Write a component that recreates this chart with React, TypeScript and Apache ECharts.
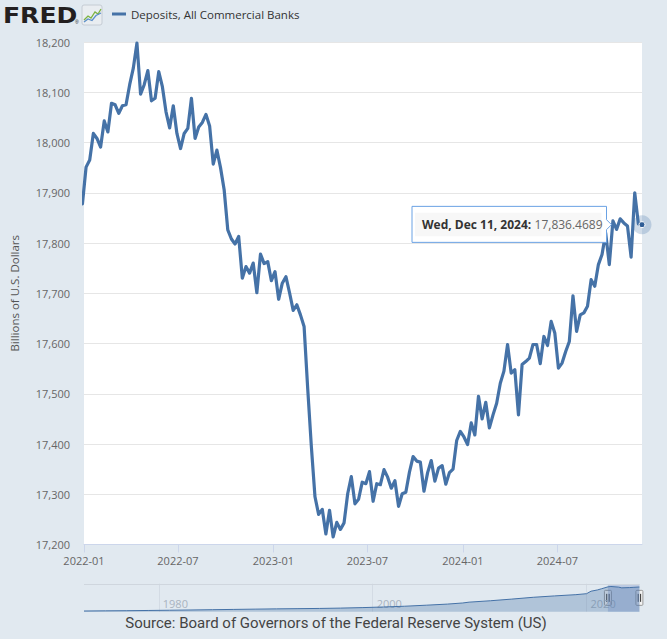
import React, { useEffect, useRef } from "react";
import * as echarts from "echarts";

// ---- Main series: weekly deposits (billions of U.S. dollars), Wednesdays ----
const startDate2021 = [2021, 11, 29];
const values2021 = [17878];
const startDate2022 = [2022, 0, 5];
const values2022 = [
  17951, 17965, 18018, 18008, 17991, 18043, 18021, 18078, 18075, 18058,
  18073, 18075, 18115, 18148, 18198, 18096, 18115, 18143, 18083, 18088,
  18141, 18111, 18061, 18029, 18073, 18018, 17988, 18018, 18028, 18088,
  18008, 18031, 18040, 18056, 18033, 17957, 17985, 17950, 17906, 17826,
  17808, 17798, 17813, 17730, 17753, 17740, 17760, 17701, 17778, 17759,
  17763, 17725,
];
const startDate2023 = [2023, 0, 4];
const values2023 = [
  17743, 17688, 17720, 17733, 17701, 17666, 17677, 17657, 17634, 17510,
  17395, 17295, 17260, 17270, 17221, 17268, 17215, 17244, 17230, 17243,
  17301, 17335, 17281, 17290, 17324, 17321, 17345, 17286, 17321, 17319,
  17349, 17334, 17312, 17327, 17276, 17301, 17304, 17344, 17375, 17366,
  17364, 17306, 17343, 17367, 17326, 17352, 17357, 17320, 17343, 17350,
  17407, 17425,
];
const startDate2024 = [2024, 0, 3];
const values2024 = [
  17414, 17399, 17442, 17418, 17495, 17450, 17483, 17432, 17458, 17481,
  17521, 17545, 17598, 17541, 17548, 17458, 17558, 17564, 17571, 17598,
  17598, 17560, 17614, 17596, 17644, 17621, 17551, 17561, 17584, 17604,
  17695, 17624, 17657, 17661, 17674, 17727, 17714, 17757, 17777, 17820,
  17757, 17844, 17827, 17848, 17840, 17834, 17772, 17900, 17838, 17836.4689,
];

// ---- Axes ----
const xTickLabels = ["2022-01", "2022-07", "2023-01", "2023-07", "2024-01", "2024-07"];
const yMin = 17200;
const yMax = 18200;
const yStep = 100;

// ---- Navigator (full history, billions) ----
const navDates = [
  "1973-01-03", "1975-01-01", "1977-01-05", "1979-01-03", "1981-01-07", "1983-01-05",
  "1985-01-02", "1987-01-07", "1989-01-04", "1991-01-02", "1993-01-06", "1995-01-04",
  "1997-01-01", "1999-01-06", "2001-01-03", "2003-01-01", "2005-01-05", "2007-01-03",
  "2008-06-04", "2009-01-07", "2011-01-05", "2013-01-02", "2015-01-07", "2017-01-04",
  "2019-01-02", "2020-01-01", "2020-06-03", "2021-01-06", "2021-06-02", "2022-01-05",
  "2022-04-13", "2023-01-04", "2023-04-19", "2024-01-03", "2024-06-05", "2024-12-11",
];
const navValues = [
  500, 620, 720, 880, 1050, 1250,
  1450, 1650, 1850, 2050, 2200, 2350,
  2600, 2950, 3400, 3950, 4700, 5500,
  6300, 6900, 7900, 9100, 10400, 11400,
  12300, 13000, 14800, 15700, 16600, 17951,
  18198, 17743, 17215, 17414, 17598, 17836,
];
const navTickYears = ["1980", "2000", "2020"];

const seriesName = "Deposits, All Commercial Banks";
const sourceText = "Source: Board of Governors of the Federal Reserve System (US)";
const yAxisTitle = "Billions of U.S. Dollars";

const FONT = "'Open Sans', 'Noto Sans', sans-serif";
const LINE_COLOR = "#4572a7";

function weekly(start: number[], values: number[]): [number, number][] {
  return values.map((v, i) => [new Date(start[0], start[1], start[2] + 7 * i).getTime(), v]);
}

function parseDay(s: string): number {
  const [y, m, d] = s.split("-").map(Number);
  return new Date(y, m - 1, d || 1).getTime();
}

const DAYS = ["Sun", "Mon", "Tue", "Wed", "Thu", "Fri", "Sat"];
const MONTHS = ["Jan", "Feb", "Mar", "Apr", "May", "Jun", "Jul", "Aug", "Sep", "Oct", "Nov", "Dec"];

export default function App() {
  const ref = useRef<HTMLDivElement>(null);

  useEffect(() => {
    document.body.style.margin = "0";
    const chart = echarts.init(ref.current!, null, { renderer: "svg" });

    const mainData = [
      ...weekly(startDate2021, values2021),
      ...weekly(startDate2022, values2022),
      ...weekly(startDate2023, values2023),
      ...weekly(startDate2024, values2024),
    ];
    const last = mainData[mainData.length - 1];
    const lastTs = last[0];
    const lastVal = last[1];
    const xMin = parseDay(xTickLabels[0]);
    const xTicks = xTickLabels.map(parseDay);
    const navData = navDates.map((d, i) => [parseDay(d), navValues[i]]);
    const navMin = navData[0][0];
    const navTicks = navTickYears.map((y) => parseDay(y + "-01-01"));

    chart.setOption({
      animation: false,
      backgroundColor: "#e1e9f0",
      textStyle: { fontFamily: FONT },
      legend: {
        data: [seriesName],
        left: 112,
        top: 8,
        padding: 0,
        icon: "rect",
        itemWidth: 14,
        itemHeight: 3,
        itemGap: 5,
        textStyle: { fontSize: 11.5, color: "#333", fontFamily: FONT },
      },
      grid: [
        { left: 84, right: 25, top: 42, bottom: 94.5, show: true, backgroundColor: "#ffffff", borderWidth: 0 },
        { left: 84, right: 27.6, top: 584, bottom: 27.3, show: false },
      ],
      xAxis: [
        {
          type: "value",
          gridIndex: 0,
          min: xMin,
          max: lastTs,
          axisLine: { show: true, lineStyle: { color: "#ccd6eb", width: 1 } },
          axisTick: { show: true, customValues: xTicks, length: 8, lineStyle: { color: "#ccd6eb" } },
          axisLabel: {
            customValues: xTicks,
            margin: 10,
            fontSize: 11,
            color: "#666",
            fontFamily: FONT,
            formatter: (v: number) => {
              const d = new Date(v);
              return d.getFullYear() + "-" + String(d.getMonth() + 1).padStart(2, "0");
            },
          },
          splitLine: { show: false },
        },
        {
          type: "value",
          gridIndex: 1,
          min: navMin,
          max: lastTs,
          axisLine: { show: false },
          axisTick: {
            show: true,
            inside: true,
            customValues: navTicks,
            length: 28,
            lineStyle: { color: "#d3dbe4" },
          },
          axisLabel: {
            customValues: navTicks,
            inside: true,
            margin: 3,
            align: "left",
            padding: [0, 0, 0, 4],
            fontSize: 11,
            color: "#a9b3bf",
            fontFamily: FONT,
            formatter: (v: number) => String(new Date(v).getFullYear()),
          },
          splitLine: { show: false },
        },
      ],
      yAxis: [
        {
          type: "value",
          gridIndex: 0,
          min: yMin,
          max: yMax,
          interval: yStep,
          name: yAxisTitle,
          nameLocation: "middle",
          nameGap: 64,
          nameRotate: 90,
          nameTextStyle: { fontSize: 11.5, color: "#555", fontFamily: FONT },
          axisLine: { show: false },
          axisTick: { show: false },
          axisLabel: {
            margin: 14,
            fontSize: 11,
            color: "#666",
            fontFamily: FONT,
            padding: [0, 0, 10, 0],
            formatter: (v: number) => v.toLocaleString("en-US"),
          },
          splitLine: { show: true, lineStyle: { color: "#e6e6e6", width: 1 } },
        },
        {
          type: "value",
          gridIndex: 1,
          min: 0,
          max: 20000,
          show: false,
          splitLine: { show: false },
        },
      ],
      series: [
        {
          name: seriesName,
          type: "line",
          xAxisIndex: 0,
          yAxisIndex: 0,
          data: mainData,
          color: LINE_COLOR,
          showSymbol: false,
          symbol: "none",
          lineStyle: { color: LINE_COLOR, width: 3.2, join: "round", cap: "round" },
          clip: true,
          z: 3,
          markPoint: {
            silent: true,
            label: { show: false },
            data: [
              {
                coord: [lastTs, lastVal],
                symbol: "circle",
                symbolSize: 19,
                itemStyle: { color: "rgba(69,114,167,0.25)" },
              },
              {
                coord: [lastTs, lastVal],
                symbol: "circle",
                symbolSize: 6,
                itemStyle: { color: "#2f5d96", borderColor: "#ffffff", borderWidth: 1 },
              },
            ],
          },
        },
        {
          name: "navigator",
          type: "line",
          xAxisIndex: 1,
          yAxisIndex: 1,
          data: navData,
          showSymbol: false,
          symbol: "none",
          lineStyle: { color: LINE_COLOR, width: 1 },
          areaStyle: { color: "rgba(69,114,167,0.45)" },
          silent: true,
          markArea: {
            silent: true,
            itemStyle: { color: "rgba(102,133,194,0.3)" },
            data: [[{ xAxis: xMin }, { xAxis: lastTs }]],
          },
        },
      ],
    });

    // Positions derived from the chart's own scales
    const [px, py] = chart.convertToPixel({ gridIndex: 0 }, [lastTs, lastVal]) as number[];
    const [nL, nTop] = chart.convertToPixel({ gridIndex: 1 }, [navMin, 20000]) as number[];
    const [nR, nBot] = chart.convertToPixel({ gridIndex: 1 }, [lastTs, 0]) as number[];
    const [hA] = chart.convertToPixel({ gridIndex: 1 }, [xMin, 0]) as number[];
    const hMid = (nTop + nBot) / 2;

    const d = new Date(lastTs);
    const dateStr = `${DAYS[d.getDay()]}, ${MONTHS[d.getMonth()]} ${d.getDate()}, ${d.getFullYear()}:`;
    const valStr = lastVal.toLocaleString("en-US", { minimumFractionDigits: 4, maximumFractionDigits: 4 });

    const boxR = px - 35.5;
    const boxL = boxR - 194.5;
    const boxT = py - 18.3;
    const boxB = py + 17.7;

    const handle = (x: number, id: string) => ({
      type: "group",
      id,
      x,
      y: hMid,
      children: [
        { type: "rect", shape: { x: -3.5, y: -7.5, width: 7, height: 15, r: 1 }, style: { fill: "#f2f2f2", stroke: "#999", lineWidth: 1 } },
        { type: "line", shape: { x1: -1.2, y1: -4, x2: -1.2, y2: 4 }, style: { stroke: "#333", lineWidth: 1 } },
        { type: "line", shape: { x1: 1.2, y1: -4, x2: 1.2, y2: 4 }, style: { stroke: "#333", lineWidth: 1 } },
      ],
    });

    chart.setOption({
      graphic: {
        elements: [
          {
            type: "text",
            id: "fred",
            x: 3,
            y: 15.5,
            scaleX: 1.14,
            style: {
              text: "FRED",
              x: 0,
              y: 0,
              verticalAlign: "middle",
              fontFamily: "'DejaVu Sans', sans-serif",
              fontWeight: 900,
              fontSize: 22,
              fill: "#231f20",
            },
          },
          {
            type: "text",
            id: "reg",
            x: 75,
            y: 22,
            style: { text: "®", fontSize: 5, fill: "#231f20", verticalAlign: "middle" },
          },
          {
            type: "group",
            id: "icon",
            x: 82,
            y: 5,
            children: [
              { type: "rect", shape: { x: 0, y: 0, width: 20, height: 20, r: 2 }, style: { fill: "#e9edf1", stroke: "#c5ccd4", lineWidth: 1 } },
              { type: "polyline", shape: { points: [[2, 15], [6, 11], [9, 13], [13, 7], [16, 9], [19, 4]] }, style: { stroke: "#7cb342", lineWidth: 1.3, fill: "none" } },
              { type: "polyline", shape: { points: [[2, 17], [6, 14], [10, 15.5], [14, 10.5], [19, 8]] }, style: { stroke: "#5b8ec9", lineWidth: 1.3, fill: "none" } },
            ],
          },
          {
            type: "line",
            id: "navTop",
            shape: { x1: nL, y1: nTop + 0.5, x2: nR, y2: nTop + 0.5 },
            style: { stroke: "#cfd6de", lineWidth: 1 },
            z: 10,
          },
          handle(hA, "h1"),
          handle(nR, "h2"),
          {
            type: "polygon",
            id: "tipBox",
            shape: {
              points: [
                [boxL, boxT],
                [boxR, boxT],
                [boxR, py - 5],
                [boxR + 5, py],
                [boxR, py + 5],
                [boxR, boxB],
                [boxL, boxB],
              ],
            },
            style: { fill: "#ffffff", stroke: "#6aa2e4", lineWidth: 1 },
            z: 20,
          },
          {
            type: "rect",
            id: "tipInner",
            shape: { x: boxL + 3, y: boxT + 6.5, width: 194.5 - 8, height: 23.5 },
            style: { fill: "#f7f7f7" },
            z: 21,
          },
          {
            type: "text",
            id: "tipText",
            x: boxL + 10,
            y: py,
            z: 22,
            style: {
              text: `{b|${dateStr}} {v|${valStr}}`,
              verticalAlign: "middle",
              align: "left",
              rich: {
                b: { fontWeight: "bold", fontSize: 12, fill: "#333", fontFamily: FONT },
                v: { fontSize: 12, fill: "#666", fontFamily: FONT },
              },
            },
          },
          {
            type: "text",
            id: "source",
            x: 336,
            y: 623,
            style: {
              text: sourceText,
              align: "center",
              verticalAlign: "middle",
              fontSize: 15,
              fontFamily: "Roboto, sans-serif",
              fill: "#444",
            },
          },
        ],
      },
    });

    return () => chart.dispose();
  }, []);

  return <div ref={ref} style={{ width: 667, height: 639 }} />;
}
